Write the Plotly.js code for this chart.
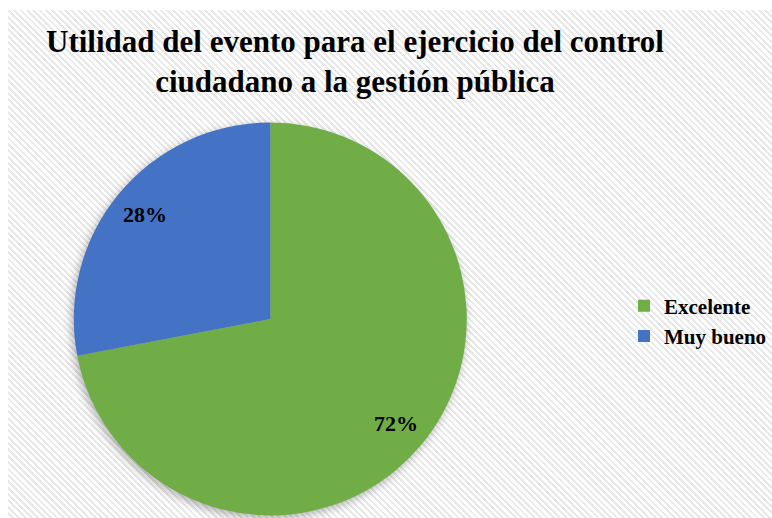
<!DOCTYPE html>
<html>
<head>
<meta charset="utf-8">
<script src="https://cdn.plot.ly/plotly-3.0.1.min.js"></script>
<style>
  html, body { margin: 0; padding: 0; background: #ffffff; }
  #wrap { position: relative; width: 772px; height: 518px; overflow: hidden; }
  #bg { position: absolute; left: 8px; top: 10px; right: 0; bottom: 0;
        background: repeating-linear-gradient(45deg, #ffffff 0px, #ffffff 2.5px, #e8e8e8 2.5px, #e8e8e8 4.5px); }
  #chart { position: absolute; left: 0; top: 0; width: 772px; height: 518px; }
  .pielayer { filter: drop-shadow(-2px 3px 5px rgba(0,0,0,0.3)); }
</style>
</head>
<body>
<div id="wrap">
  <div id="bg"></div>
  <div id="chart"></div>
</div>
<script>
const categories = ["Excelente", "Muy bueno"];
const values = [72, 28];
const colors = ["#70AD47", "#4472C4"];
const titleText = "Utilidad del evento para el ejercicio del control<br>ciudadano a la gestión pública";

const serif = "Liberation Serif, Times New Roman, serif";
const W = 772, H = 518;
const dom = { x: [74/W, 468/W], y: [2/H, 396/H] };

// label positions derived from the data (slice mid-angles, clockwise from 12 o'clock)
const total = values.reduce((a, b) => a + b, 0);
const cx = (dom.x[0] + dom.x[1]) / 2 * W;
const cy = (dom.y[0] + dom.y[1]) / 2 * H;
const R = Math.min((dom.x[1] - dom.x[0]) * W, (dom.y[1] - dom.y[0]) * H) / 2;
const labelRadius = 0.83;
let cum = 0;
const annotations = values.map((v, i) => {
  const mid = (cum + v / 2) / total * 2 * Math.PI;
  cum += v;
  const px = cx + Math.sin(mid) * R * labelRadius;
  const py = cy + Math.cos(mid) * R * labelRadius;
  return {
    x: px / W, y: py / H, xref: "paper", yref: "paper",
    xanchor: "center", yanchor: "middle", showarrow: false,
    text: "<b>" + Math.round(v / total * 100) + "%</b>",
    font: { family: serif, size: 22, color: "#000000" }
  };
});

const data = [{
  type: "pie",
  labels: categories,
  values: values,
  marker: { colors: colors, line: { width: 0 } },
  sort: false,
  direction: "clockwise",
  rotation: 0,
  textinfo: "none",
  hoverinfo: "label+percent",
  domain: dom
}];

const layout = {
  width: W,
  height: H,
  margin: { l: 0, r: 0, t: 0, b: 0 },
  paper_bgcolor: "rgba(0,0,0,0)",
  plot_bgcolor: "rgba(0,0,0,0)",
  title: {
    text: "<b>" + titleText + "</b>",
    font: { family: serif, size: 31, color: "#000000" },
    x: 355/W,
    xanchor: "center",
    y: 1 - 52/H,
    yanchor: "middle"
  },
  annotations: annotations,
  showlegend: true,
  legend: {
    x: 626/W,
    y: 1 - 321/H,
    xanchor: "left",
    yanchor: "middle",
    font: { family: serif, size: 21, color: "#000000", weight: "bold" },
    bgcolor: "rgba(0,0,0,0)",
    itemwidth: 30
  }
};

Plotly.newPlot("chart", data, layout, { displayModeBar: false, staticPlot: true });
</script>
</body>
</html>
